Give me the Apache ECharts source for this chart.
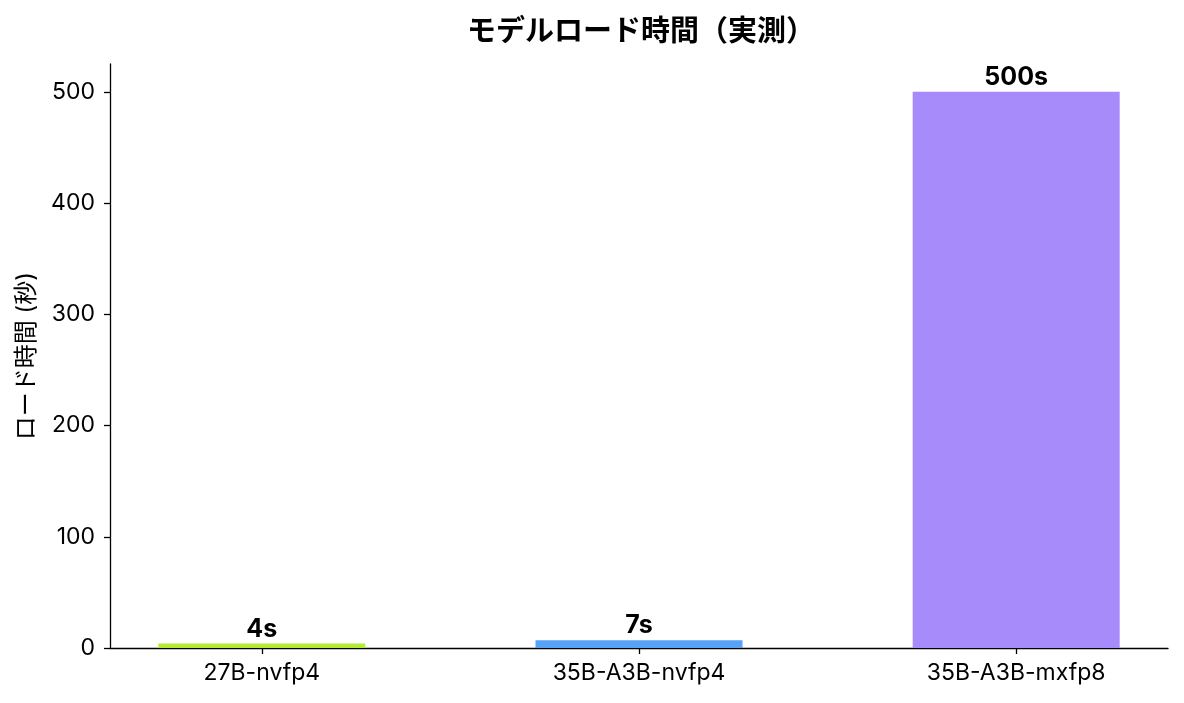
<!DOCTYPE html>
<html>
<head>
<meta charset="utf-8">
<script src="https://cdn.jsdelivr.net/npm/echarts@6/dist/echarts.min.js"></script>
<style>
html,body{margin:0;padding:0;background:#fff;}
#c{width:1184px;height:703px;}
</style>
</head>
<body>
<div id="c"></div>
<script>
var categories = ['27B-nvfp4', '35B-A3B-nvfp4', '35B-A3B-mxfp8'];
var loadSeconds = [4, 7, 500];
var barColors = ['#b4ec34', '#56a2f6', '#a78bfa'];
var yTicks = [0, 100, 200, 300, 400, 500];

var FONT = 'Inter, "Noto Sans CJK JP", sans-serif';
var CJK = '"Noto Sans CJK JP", Inter, sans-serif';
var chart = echarts.init(document.getElementById('c'));
var data = loadSeconds.map(function (v, i) {
  return { value: [i, v], itemStyle: { color: barColors[i] } };
});
chart.setOption({
  animation: false,
  backgroundColor: '#fff',
  title: {
    text: 'モデルロード時間（実測）',
    left: 636, textAlign: 'center', top: 10,
    textStyle: { fontFamily: CJK, fontSize: 29, fontWeight: 'bold', color: '#000' }
  },
  grid: { left: 110, right: 16, top: 64, bottom: 55, containLabel: false },
  xAxis: {
    type: 'value', min: -0.4025, max: 2.4025,
    splitLine: { show: false },
    axisLine: { show: true, onZero: false, lineStyle: { color: '#000', width: 1.3 } },
    axisTick: { show: true, customValues: [0, 1, 2], length: 6, lineStyle: { color: '#000', width: 1.3 } },
    axisLabel: {
      customValues: [0, 1, 2],
      formatter: function (v) { return categories[Math.round(v)]; },
      fontFamily: FONT, fontSize: 23, color: '#000', margin: 14
    }
  },
  yAxis: {
    type: 'value', min: 0, max: 525,
    name: 'ロード時間 (秒)', nameLocation: 'middle', nameGap: 71, nameRotate: 90,
    nameTextStyle: { fontFamily: FONT, fontSize: 24, color: '#000' },
    splitLine: { show: false },
    axisLine: { show: true, onZero: false, lineStyle: { color: '#000', width: 1.3 } },
    axisTick: { show: true, customValues: yTicks, length: 6, lineStyle: { color: '#000', width: 1.3 } },
    axisLabel: { customValues: yTicks, fontFamily: FONT, fontSize: 23, color: '#000', margin: 15 }
  },
  series: [{
    type: 'bar',
    data: data,
    barWidth: 207,
    label: {
      show: true, position: 'top', distance: 2,
      formatter: function (p) { return p.value[1] + 's'; },
      fontFamily: FONT, fontSize: 25, fontWeight: 'bold', color: '#000'
    }
  }]
});
</script>
</body>
</html>
